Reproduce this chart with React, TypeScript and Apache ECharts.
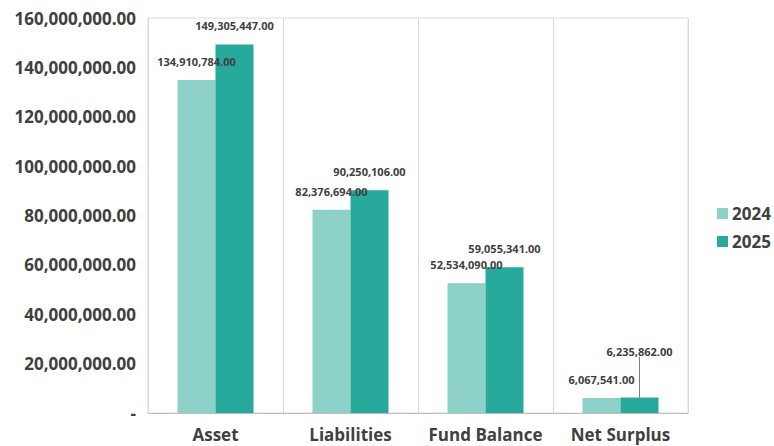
import React, { useEffect, useRef } from "react";
import * as echarts from "echarts";

const categories = ["Asset", "Liabilities", "Fund Balance", "Net Surplus"];
const values2024 = [134910784, 82376694, 52534090, 6067541];
const values2025 = [149305447, 90250106, 59055341, 6235862];
const seriesNames = ["2024", "2025"];
const yMin = 0;
const yMax = 160000000;
const yInterval = 20000000;
const leaderIndex = 3;

const fmt = (v: number) =>
  v.toLocaleString("en-US", { minimumFractionDigits: 2, maximumFractionDigits: 2 });

export default function App() {
  const ref = useRef<HTMLDivElement>(null);
  useEffect(() => {
    if (!ref.current) return;
    const chart = echarts.init(ref.current, undefined, { renderer: "svg" });
    const font = "'Open Sans', 'Noto Sans', sans-serif";
    const labelStyle = {
      show: true,
      position: "top" as const,
      distance: 13,
      fontFamily: font,
      fontSize: 11,
      fontWeight: "bold" as const,
      color: "#404040",
      formatter: (p: any) => fmt(p.value),
    };
    chart.setOption({
      animation: false,
      backgroundColor: "#ffffff",
      grid: {
        left: 148,
        right: 86,
        top: 18,
        bottom: 33,
        show: true,
        borderColor: "#dcdcdc",
        borderWidth: 1,
      },
      legend: {
        orient: "vertical",
        left: 712,
        top: 200,
        itemWidth: 11,
        itemHeight: 11,
        itemGap: 11,
        icon: "rect",
        textStyle: {
          fontFamily: font,
          fontSize: 17,
          fontWeight: "bold",
          color: "#404040",
          padding: [0, 0, 0, -1],
        },
        data: seriesNames,
      },
      xAxis: {
        type: "category",
        data: categories,
        axisTick: { show: false },
        axisLine: { lineStyle: { color: "#bfbfbf", width: 1 } },
        splitLine: { show: true, interval: 0, lineStyle: { color: "#d9d9d9", width: 1 } },
        axisLabel: {
          interval: 0,
          margin: 13,
          lineHeight: 17,
          fontFamily: font,
          fontSize: 17,
          fontWeight: "bold",
          color: "#404040",
        },
      },
      yAxis: {
        type: "value",
        min: yMin,
        max: yMax,
        interval: yInterval,
        axisLine: { show: false },
        axisTick: { show: false },
        splitLine: { show: false },
        axisLabel: {
          margin: 12,
          fontFamily: font,
          fontSize: 17,
          fontWeight: "bold",
          color: "#404040",
          formatter: (v: number) => (v === 0 ? "-" : fmt(v)),
        },
      },
      series: [
        {
          name: seriesNames[0],
          type: "bar",
          data: values2024,
          barWidth: 38,
          barGap: "0%",
          itemStyle: { color: "#8dd1c8" },
          label: labelStyle,
        },
        {
          name: seriesNames[1],
          type: "bar",
          data: values2025.map((v, i) =>
            i === leaderIndex
              ? { value: v, labelLine: { show: true, length2: 0, lineStyle: { color: "#7f7f7f", width: 1 } } }
              : { value: v }
          ),
          barWidth: 38,
          barGap: "0%",
          itemStyle: { color: "#27a99b" },
          label: labelStyle,
          labelLayout: (p: any) => (p.dataIndex === leaderIndex ? { dy: -28 } : {}),
          labelLine: { show: false },
        },
      ],
    });
    return () => chart.dispose();
  }, []);
  return (
    <div
      ref={ref}
      style={{ position: "fixed", left: 0, top: 0, width: 774, height: 446 }}
    />
  );
}
